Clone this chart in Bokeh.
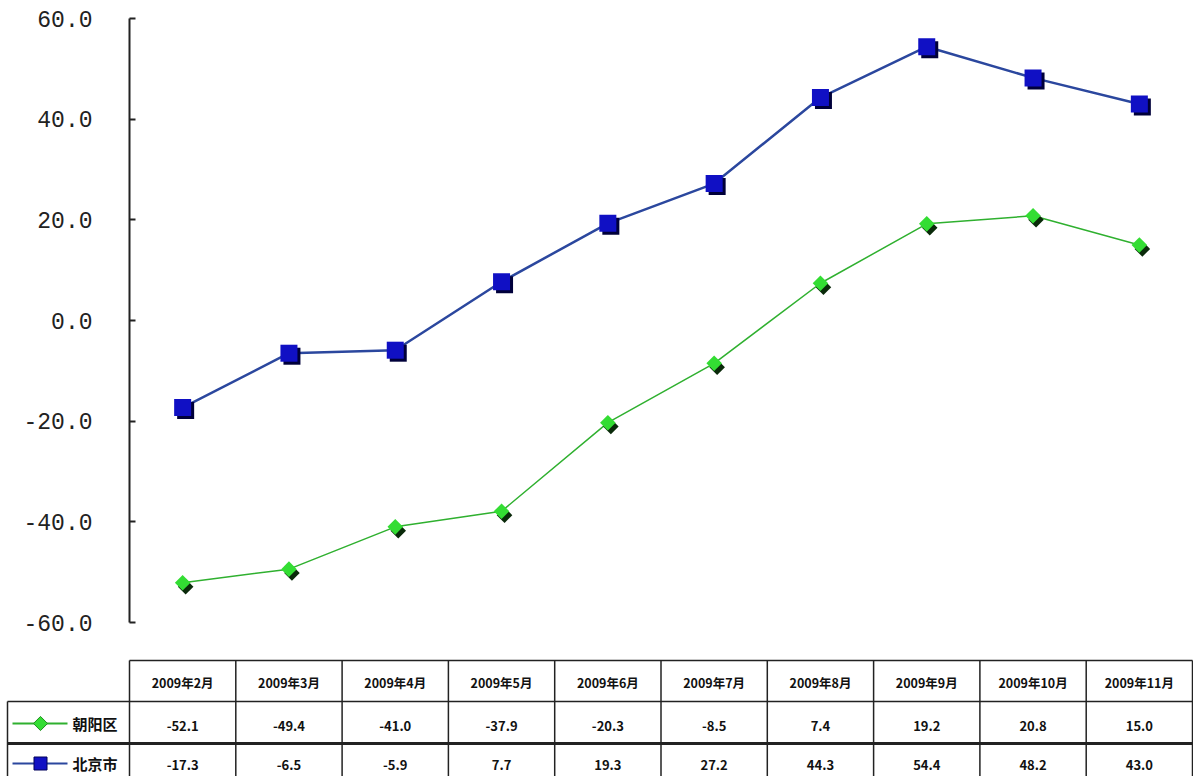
import numpy as np
from bokeh.plotting import figure
from bokeh.layouts import column
from bokeh.models import Range1d, FixedTicker, PrintfTickFormatter, ColumnDataSource
from bokeh.transform import dodge
from bokeh.core.properties import value
from bokeh.embed import file_html
from bokeh.resources import INLINE

# ---------------- data ----------------
months = ["2009年2月", "2009年3月", "2009年4月", "2009年5月", "2009年6月",
          "2009年7月", "2009年8月", "2009年9月", "2009年10月", "2009年11月"]
chaoyang = [-52.1, -49.4, -41.0, -37.9, -20.3, -8.5, 7.4, 19.2, 20.8, 15.0]
beijing = [-17.3, -6.5, -5.9, 7.7, 19.3, 27.2, 44.3, 54.4, 48.2, 43.0]
series_names = ["朝阳区", "北京市"]
y_ticks = [-60, -40, -20, 0, 20, 40, 60]

# ---------------- layout constants ----------------
FIG_W = 1193
LEFT = 129            # frame left inside the chart figure
RIGHT = 1
COL_PX = (FIG_W - LEFT - RIGHT) / len(months)   # pixels per category
P1_H = 650
P2_H = 126
TOP_B, BOT_B = 18, 28
FRAME_H = P1_H - TOP_B - BOT_B
Y_PER_PX = 120.0 / FRAME_H

BLUE_LINE = "#2B479E"
BLUE_MARK = "#1010C4"
BLUE_SHADOW = "#00003A"
GREEN_LINE = "#2FB02F"
GREEN_MARK = "#33DD33"
GREEN_SHADOW = "#0A2A0A"
CJK = value("Noto Sans CJK SC")

idx = list(range(len(months)))
src = ColumnDataSource(dict(x=idx, cy=chaoyang, by=beijing))

# ---------------- chart ----------------
p1 = figure(width=FIG_W, height=P1_H,
            x_range=Range1d(-0.5, len(months) - 0.5), y_range=Range1d(-60, 60),
            x_axis_type=None, output_backend="svg", toolbar_location=None,
            min_border_left=LEFT, min_border_right=RIGHT, min_border_top=TOP_B,
            min_border_bottom=BOT_B)
p1.frame_align = False
p1.outline_line_color = None
p1.ygrid.grid_line_color = None
p1.background_fill_color = "white"

ya = p1.yaxis[0]
ya.ticker = FixedTicker(ticks=y_ticks)
ya.formatter = PrintfTickFormatter(format="%.1f")
ya.axis_line_color = "#222222"
ya.axis_line_width = 2
ya.major_tick_line_color = "#222222"
ya.major_tick_line_width = 2
ya.major_tick_in = 6
ya.major_tick_out = 0
ya.minor_tick_line_color = None
ya.major_label_standoff = 37
ya.major_label_text_font = "Liberation Mono"
ya.major_label_text_font_size = "23px"
ya.major_label_text_color = "#222222"

dx = 3 / COL_PX
dy = -3 * Y_PER_PX

# Beijing (blue squares)
p1.line("x", "by", source=src, line_color=BLUE_LINE, line_width=2.5)
p1.scatter(x=dodge("x", dx), y=dodge("by", dy), source=src, marker="square",
           size=17, fill_color=BLUE_SHADOW, line_color=None)
p1.scatter("x", "by", source=src, marker="square", size=17,
           fill_color=BLUE_MARK, line_color=None)

# Chaoyang (green diamonds)
p1.line("x", "cy", source=src, line_color=GREEN_LINE, line_width=1.5)
p1.scatter(x=dodge("x", dx), y=dodge("cy", dy * 1.3), source=src, marker="square",
           angle=np.pi / 4, size=11, fill_color=GREEN_SHADOW, line_color=None)
p1.scatter("x", "cy", source=src, marker="square", angle=np.pi / 4, size=11,
           fill_color=GREEN_MARK, line_color=None)

# ---------------- data table ----------------
x_start = -0.5 - LEFT / COL_PX
x_end = x_start + FIG_W / COL_PX
p2 = figure(width=FIG_W, height=P2_H,
            x_range=Range1d(x_start, x_end), y_range=Range1d(P2_H, 0),
            x_axis_type=None, y_axis_type=None, output_backend="svg",
            toolbar_location=None, min_border=0)
p2.frame_align = False
p2.outline_line_color = None
p2.grid.visible = False


def px(page_x):
    return -0.5 + (page_x - LEFT) / COL_PX


TOP, HB, R1B, BOT = 10, 51, 93, 140
label_left = px(7)
cat_left = -0.5
cat_right = len(months) - 0.5
LC = "#222222"

# horizontal lines
p2.segment(x0=[cat_left, label_left], y0=[TOP, HB], x1=[cat_right, cat_right],
           y1=[TOP, HB], line_color=LC, line_width=1.5)
p2.segment(x0=[label_left], y0=[R1B], x1=[cat_right], y1=[R1B],
           line_color=LC, line_width=3)
# vertical lines
vx = [i - 0.5 for i in range(len(months) + 1)]
p2.segment(x0=vx, y0=[TOP] * len(vx), x1=vx, y1=[BOT] * len(vx),
           line_color=LC, line_width=1.5)
p2.segment(x0=[label_left], y0=[HB], x1=[label_left], y1=[BOT],
           line_color=LC, line_width=1.5)

row_y = [73, 113]
tsrc = ColumnDataSource(dict(
    x=idx,
    m=months,
    c=["%.1f" % v for v in chaoyang],
    b=["%.1f" % v for v in beijing],
))
txt = dict(source=tsrc, text_font=CJK, text_font_style="bold",
           text_color="#111111", text_align="center", text_baseline="middle")
p2.text(x="x", y=32, text="m", text_font_size="12.5px", **txt)
p2.text(x="x", y=row_y[0] + 2, text="c", text_font_size="13px", **txt)
p2.text(x="x", y=row_y[1] + 1, text="b", text_font_size="13px", **txt)

# row labels with series swatches
p2.text(x=[cat_left, cat_left], y=row_y, text=series_names, text_font=CJK,
        text_font_size="15px", text_font_style="bold", text_color="#111111",
        text_align="right", text_baseline="middle", x_offset=-12)

sw_l, sw_r, sw_m = px(12), px(67), px(40)
p2.segment(x0=[sw_l], y0=[row_y[0]], x1=[sw_r], y1=[row_y[0]],
           line_color=GREEN_LINE, line_width=2)
p2.scatter(x=[sw_m], y=[row_y[0]], marker="square", angle=np.pi / 4, size=10,
           fill_color=GREEN_MARK, line_color="#1E8E1E", line_width=1)
p2.segment(x0=[sw_l], y0=[row_y[1]], x1=[sw_r], y1=[row_y[1]],
           line_color=BLUE_LINE, line_width=2)
p2.scatter(x=[sw_m], y=[row_y[1]], marker="square", size=13,
           fill_color=BLUE_MARK, line_color="#00005A", line_width=1)

layout = column(p1, p2)
open("out.html", "w").write(file_html(layout, INLINE))
